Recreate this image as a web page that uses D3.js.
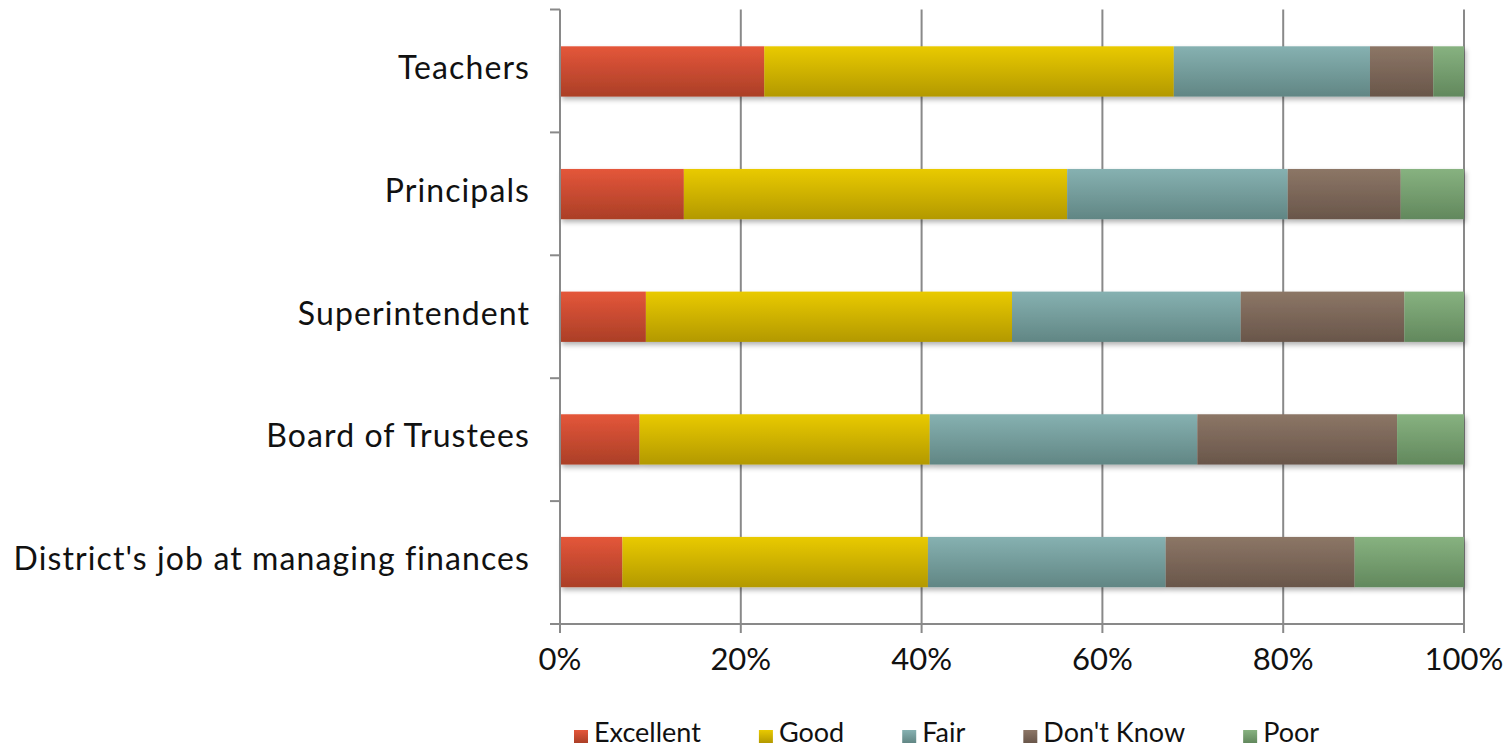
<!DOCTYPE html>
<html>
<head>
<meta charset="utf-8">
<script src="https://cdn.jsdelivr.net/npm/d3@7"></script>
<style>
  html, body { margin: 0; padding: 0; background: #fff; }
  svg { display: block; font-family: "Lato", "Open Sans", sans-serif; }
</style>
</head>
<body>
<svg id="chart" width="1505" height="749"></svg>
<script>
// Survey ratings, percent of respondents per group (top row first)
const categories = ["Teachers", "Principals", "Superintendent", "Board of Trustees", "District's job at managing finances"];
const seriesNames = ["Excellent", "Good", "Fair", "Don't Know", "Poor"];
const excellent = [22.6, 13.7, 9.5, 8.8, 6.9];
const good      = [45.3, 42.4, 40.5, 32.1, 33.8];
const fair      = [21.7, 24.4, 25.3, 29.6, 26.3];
const dontKnow  = [7.0, 12.5, 18.1, 22.1, 20.9];
const poor      = [3.4, 7.0, 6.6, 7.4, 12.1];
const xTicks = [0, 20, 40, 60, 80, 100];

const seriesValues = [excellent, good, fair, dontKnow, poor];
const gradStops = [
  ["#e4563a", "#ab3f27"],
  ["#e9ca00", "#b39900"],
  ["#86b1b1", "#618684"],
  ["#8c7666", "#69564a"],
  ["#87b280", "#62885d"]
];

const svg = d3.select("#chart");
const plotLeft = 560, plotRight = 1464, plotTop = 9.5, plotBottom = 624;

const x = d3.scaleLinear().domain([0, 100]).range([plotLeft, plotRight]);
const y = d3.scaleBand().domain(categories).range([plotTop, plotBottom]).paddingInner(0.59).paddingOuter(0.3);

const defs = svg.append("defs");
gradStops.forEach((s, i) => {
  const g = defs.append("linearGradient").attr("id", "grad" + i)
    .attr("x1", 0).attr("y1", 0).attr("x2", 0).attr("y2", 1);
  g.append("stop").attr("offset", "0%").attr("stop-color", s[0]);
  g.append("stop").attr("offset", "100%").attr("stop-color", s[1]);
});
const shadow = defs.append("filter").attr("id", "shadow")
  .attr("x", "-5%").attr("y", "-20%").attr("width", "110%").attr("height", "160%");
shadow.append("feDropShadow").attr("dx", 2).attr("dy", 3).attr("stdDeviation", 2.5)
  .attr("flood-color", "#000").attr("flood-opacity", 0.3);

// Vertical gridlines, running through the tick marks below the axis
const gridColor = "#898989";
svg.append("g").selectAll("line").data(xTicks.slice(1)).join("line")
  .attr("x1", d => x(d)).attr("x2", d => x(d))
  .attr("y1", plotTop).attr("y2", plotBottom + 9)
  .attr("stroke", gridColor).attr("stroke-width", 2);

// Stacked bars
const stackData = categories.map((c, i) => {
  const row = { category: c };
  seriesNames.forEach((n, j) => row[n] = seriesValues[j][i]);
  return row;
});
const stacked = d3.stack().keys(seriesNames)(stackData);

const barsG = svg.append("g").attr("filter", "url(#shadow)");
stacked.forEach((layer, i) => {
  barsG.append("g").attr("fill", "url(#grad" + i + ")")
    .selectAll("rect").data(layer).join("rect")
    .attr("x", d => x(d[0]))
    .attr("width", d => x(d[1]) - x(d[0]))
    .attr("y", d => y(d.data.category))
    .attr("height", y.bandwidth());
});

// Category axis with ticks at band boundaries
const axisG = svg.append("g");
const bandEdges = d3.range(categories.length + 1).map(i => plotTop + i * (plotBottom - plotTop) / categories.length);
axisG.append("line").attr("x1", plotLeft).attr("x2", plotLeft).attr("y1", plotTop).attr("y2", plotBottom + 9)
  .attr("stroke", gridColor).attr("stroke-width", 2);
axisG.selectAll("line.tick").data(bandEdges).join("line").attr("class", "tick")
  .attr("x1", plotLeft - 10).attr("x2", plotLeft).attr("y1", d => d).attr("y2", d => d)
  .attr("stroke", gridColor).attr("stroke-width", 2);
axisG.append("line").attr("x1", plotLeft).attr("x2", plotRight).attr("y1", plotBottom).attr("y2", plotBottom)
  .attr("stroke", gridColor).attr("stroke-width", 2);

axisG.selectAll("text.cat").data(categories).join("text").attr("class", "cat")
  .attr("x", 530).attr("y", d => y(d) + y.bandwidth() / 2)
  .attr("dy", "0.25em").attr("text-anchor", "end")
  .attr("font-size", 32).attr("letter-spacing", 1.1).attr("fill", "#111")
  .text(d => d);

// Percentage labels
axisG.selectAll("text.xt").data(xTicks).join("text").attr("class", "xt")
  .attr("x", d => x(d)).attr("y", 670).attr("text-anchor", "middle")
  .attr("font-size", 31).attr("fill", "#111")
  .text(d => d + "%");

// Legend
const legend = svg.append("g");
let lx = 574;
seriesNames.forEach((n, i) => {
  legend.append("rect").attr("x", lx).attr("y", 730).attr("width", 14).attr("height", 13)
    .attr("fill", "url(#grad" + i + ")");
  const t = legend.append("text").attr("x", lx + 20).attr("y", 742)
    .attr("font-size", 27).attr("fill", "#111").text(n);
  const w = t.node().getComputedTextLength();
  lx += 20 + w + 58;
});
</script>
</body>
</html>
